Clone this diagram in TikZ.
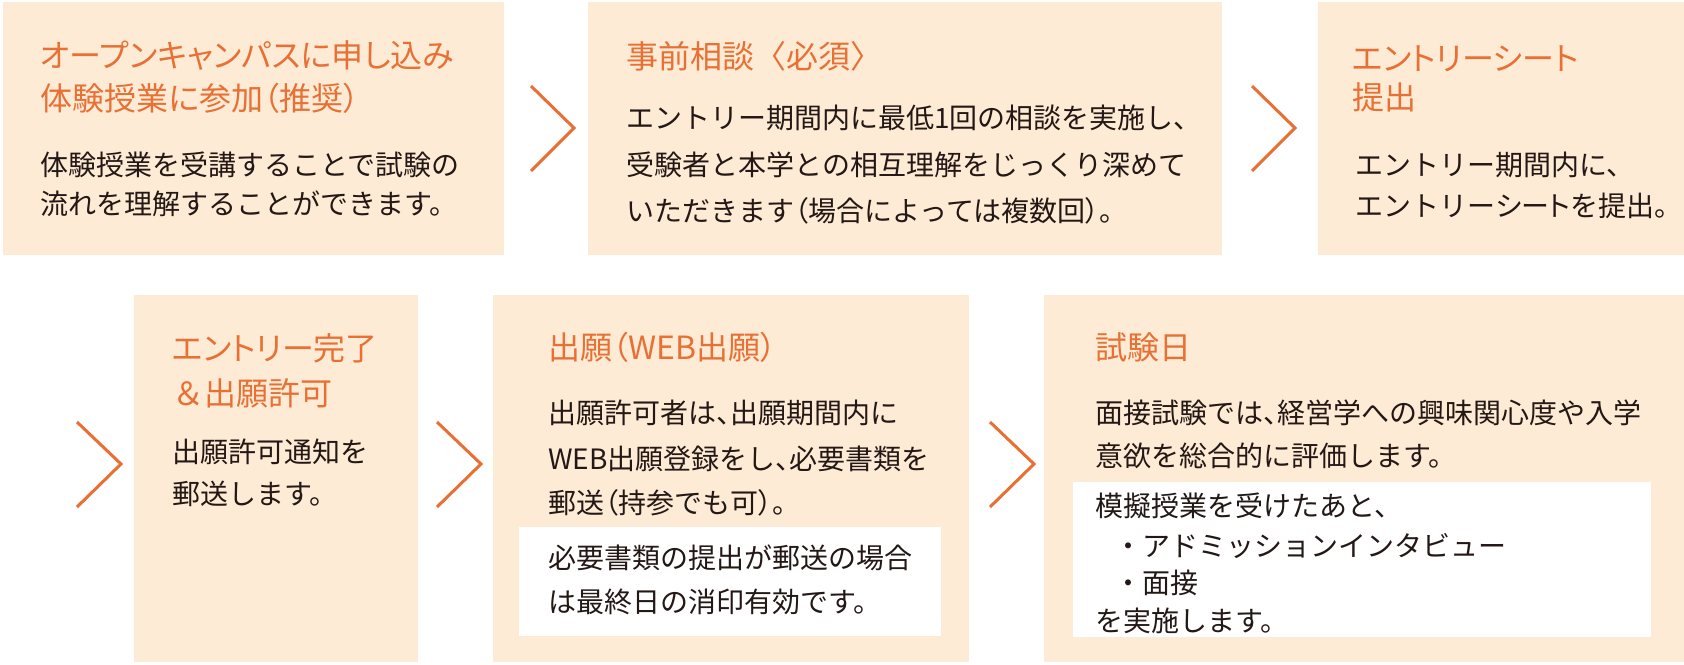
\documentclass[tikz,border=0pt]{standalone}
\usepackage{fontspec}
\setmainfont{Noto Sans CJK JP}
\newfontfamily\jpprop{Noto Sans CJK JP}[RawFeature=+palt]
\definecolor{accent}{RGB}{232,112,52}
\definecolor{peach}{RGB}{253,235,213}
\definecolor{ink}{RGB}{35,24,21}
\newcommand{\pp}[1]{{\jpprop #1}}
\tikzset{
  boxfill/.style={fill=peach},
  notefill/.style={fill=white},
  ttl/.style={anchor=base west, inner sep=0pt, text=accent, font=\jpprop\fontsize{16}{20}\selectfont},
  ttlw/.style={anchor=base west, inner sep=0pt, text=accent, font=\fontsize{16}{20}\selectfont},
  bdy/.style={anchor=base west, inner sep=0pt, text=ink, font=\fontsize{14}{18}\selectfont},
  chev/.style={draw=accent, line width=1.5pt, line join=miter},
}
\begin{document}
\begin{tikzpicture}[x=0.5pt, y=-0.5pt]
\useasboundingbox[fill=white] (0,0) rectangle (1684,664);
% boxes
\path[boxfill] (3,2) rectangle (504,255);
\path[boxfill] (588,2) rectangle (1222,255);
\path[boxfill] (1318,2) rectangle (1684,255);
\path[boxfill] (134,295) rectangle (418,662);
\path[boxfill] (493,295) rectangle (969,662);
\path[boxfill] (1044,295) rectangle (1684,662);
\path[notefill] (519,527) rectangle (941,636);
\path[notefill] (1073,482) rectangle (1651,637);
% chevrons
\draw[chev] (531,86) -- ++(43,42) -- ++(-43,43);
\draw[chev] (1252,86) -- ++(43,42) -- ++(-43,43);
\draw[chev] (77,422) -- ++(44,42) -- ++(-44,43);
\draw[chev] (437,422) -- ++(44,42) -- ++(-44,43);
\draw[chev] (990,422) -- ++(44,42) -- ++(-44,43);
% box 1
\node[ttl] (t1a) at (40,67) {オープンキャンパスに申し込み};
\node[ttl] (t1b) at (40,110) {体験授業に参加（推奨）};
\node[bdy] (d1a) at (40,175) {体験授業を受講することで試験の};
\node[bdy] (d1b) at (40,214) {流れを理解することができます。};
% box 2
\node[ttlw] (t2a) at (626,68) {事前相談〈必須〉};
\node[bdy] (d2a) at (626,128) {エントリー期間内に最低1回の相談を実施し、};
\node[bdy] (d2b) at (626,175) {受験者と本学との相互理解をじっくり深めて};
\node[bdy] (d2c) at (626,221) {いただきます\pp{（}場合によっては複数回\pp{）}。};
% box 3
\node[ttl] (t3a) at (1352,70) {エントリーシート};
\node[ttl] (t3b) at (1352,109) {提出};
\node[bdy] (d3a) at (1355,175) {エントリー期間内に、};
\node[bdy] (d3b) at (1355,216) {エントリー\pp{シート}を提出\pp{。}};
% box 4
\node[ttl] (t4a) at (172,360) {エントリー完了};
\node[ttlw] (t4b) at (172,405) {＆出願許可};
\node[bdy] (d4a) at (172,462) {出願許可通知を};
\node[bdy] (d4b) at (172,504) {郵送します。};
% box 5
\node[ttl] (t5a) at (548,359) {出願（WEB出願）};
\node[bdy] (d5a) at (548,423) {出願許可者は\pp{、}出願期間内に};
\node[bdy] (d5b) at (548,469) {WEB出願登録をし\pp{、}必要書類を};
\node[bdy] (d5c) at (548,513) {郵送\pp{（}持参でも可\pp{）}。};
\node[bdy] (n5a) at (548,568) {必要書類の提出が郵送の場合};
\node[bdy] (n5b) at (548,612) {は最終日の消印有効です。};
% box 6
\node[ttl] (t6a) at (1095,359) {試験日};
\node[bdy] (d6a) at (1095,423) {面接試験では\pp{、}経営学への興味関心度や入学};
\node[bdy] (d6b) at (1095,466) {意欲を総合的に評価します。};
\node[bdy] (n6a) at (1095,516) {模擬授業を受けたあと、};
\node[bdy] (n6b) at (1114,556) {・アドミッションインタビュー};
\node[bdy] (n6c) at (1114,593) {・面接};
\node[bdy] (n6d) at (1095,631) {を実施します。};
\end{tikzpicture}
\end{document}
